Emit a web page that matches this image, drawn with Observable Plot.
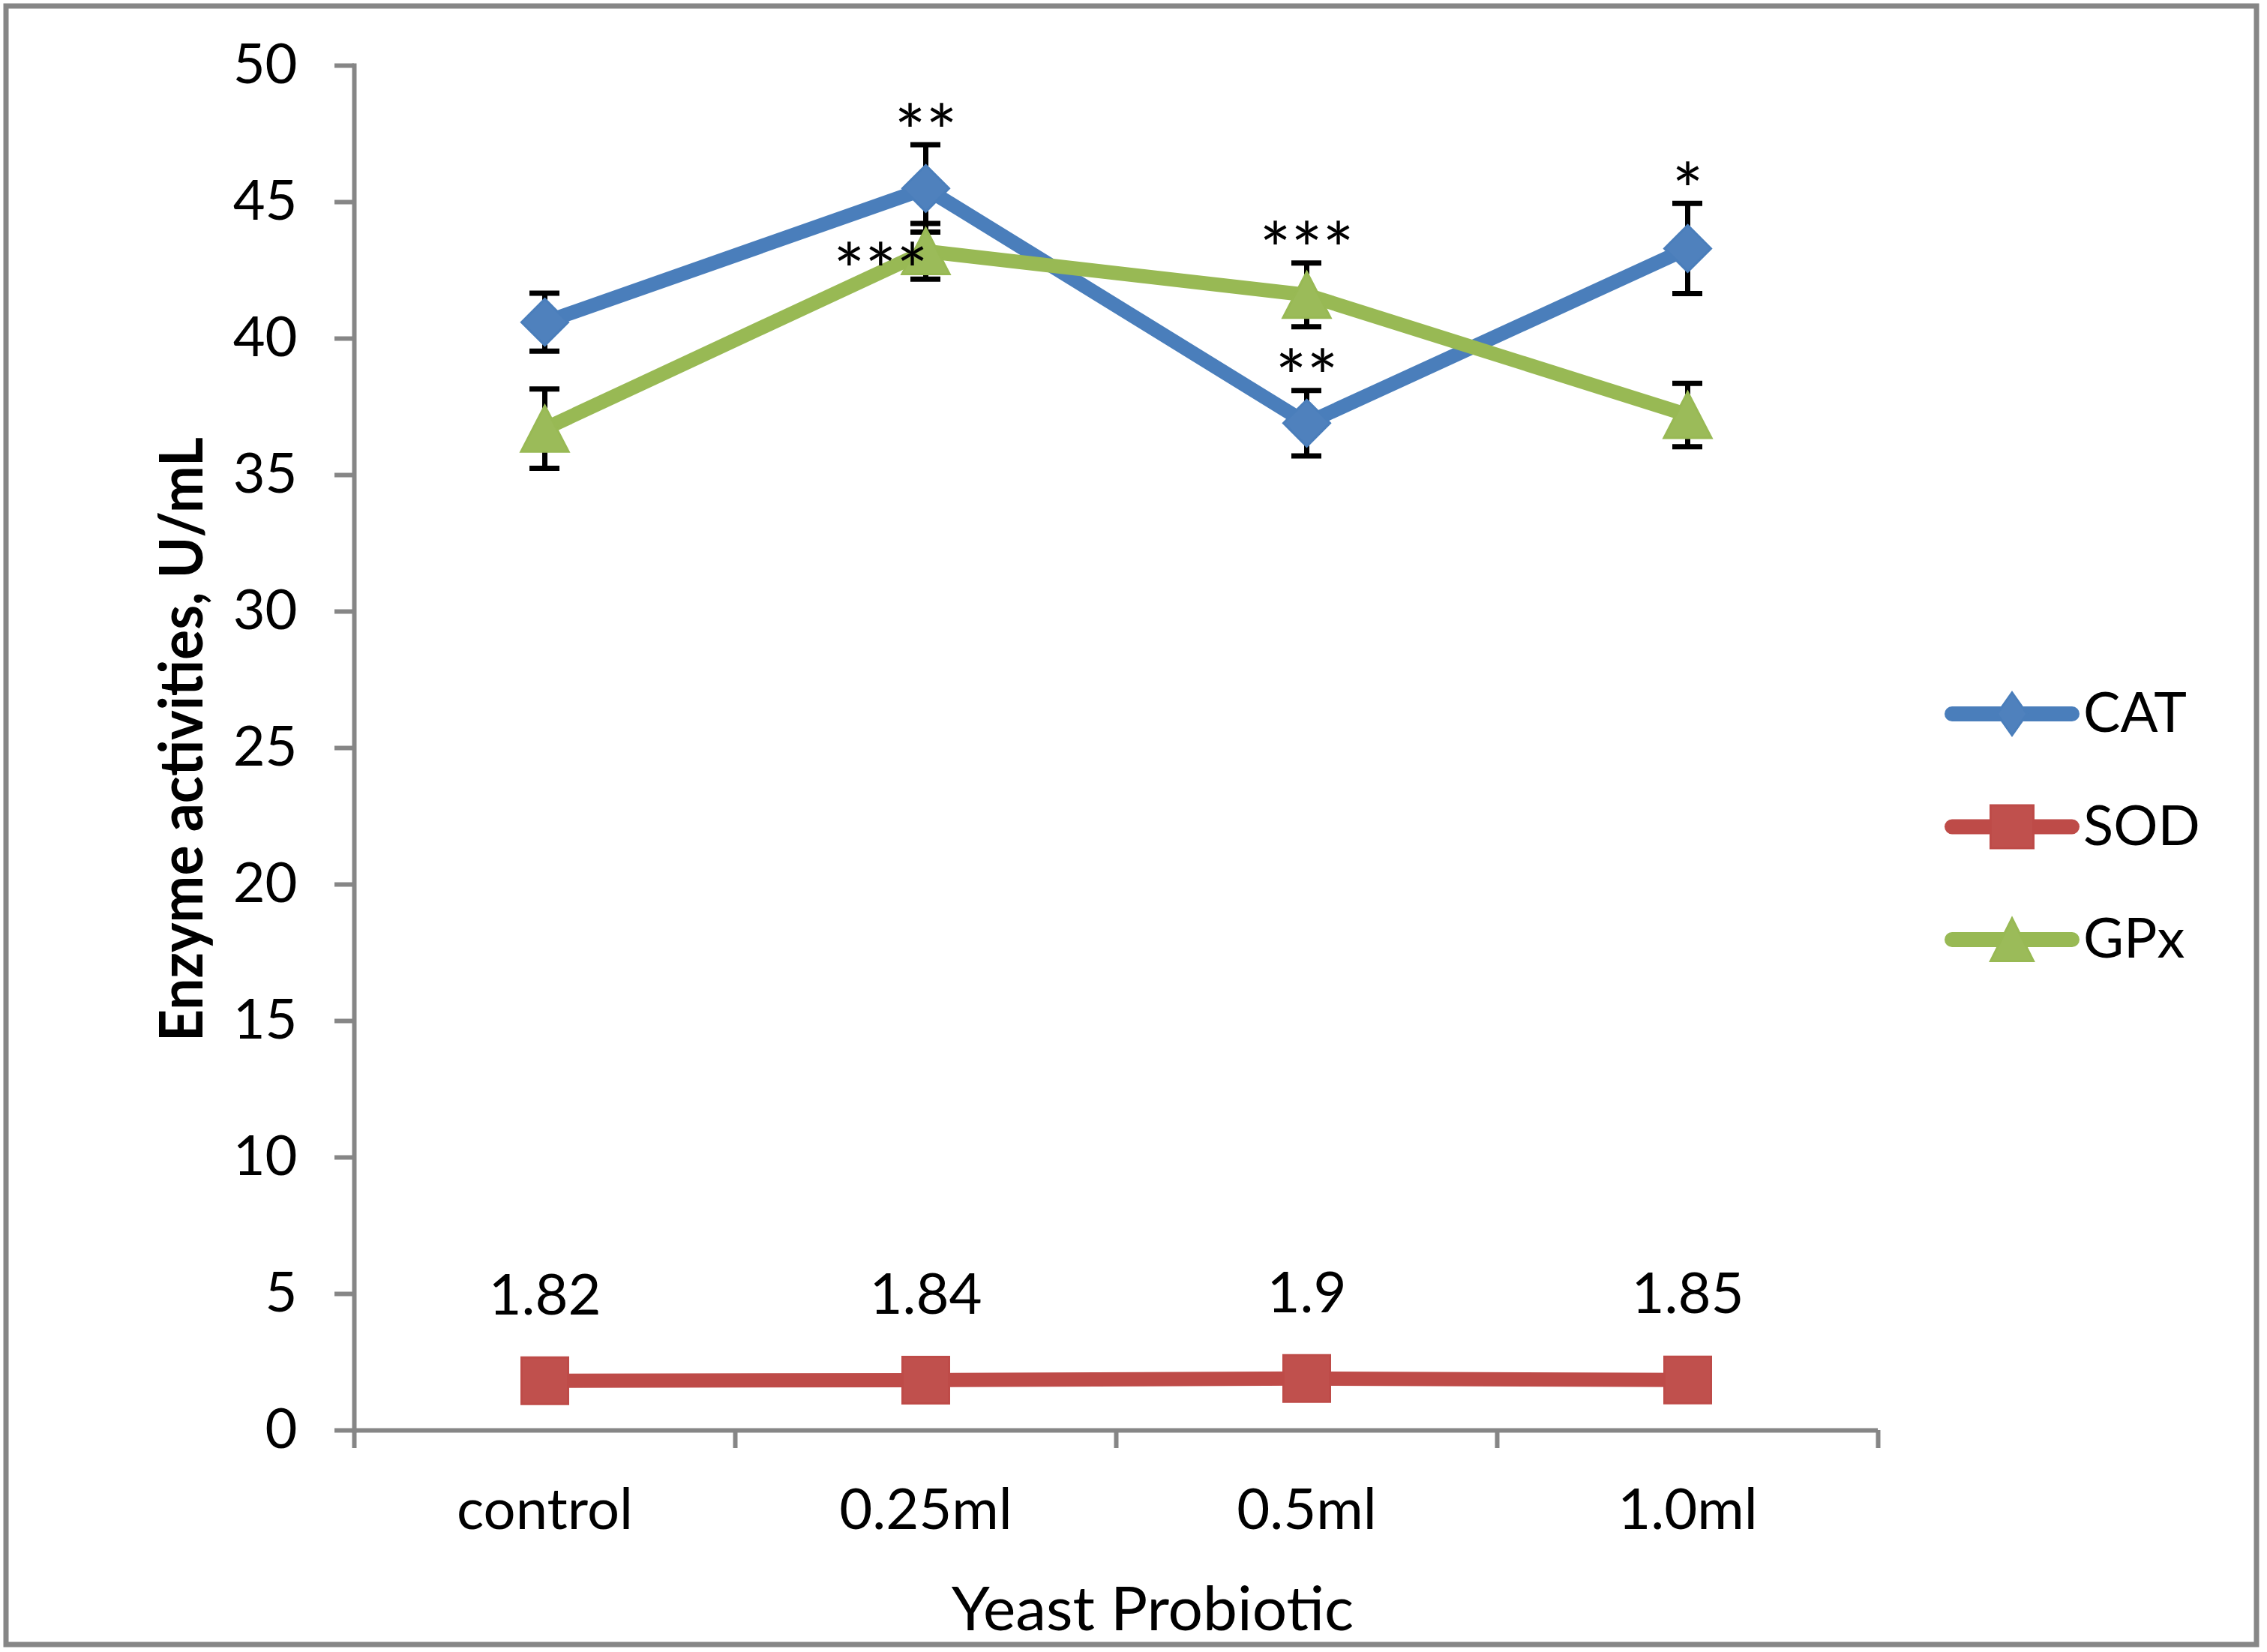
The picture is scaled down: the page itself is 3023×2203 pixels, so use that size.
<!DOCTYPE html>
<html>
<head>
<meta charset="utf-8">
<script src="https://cdn.jsdelivr.net/npm/d3@7"></script>
<script src="https://cdn.jsdelivr.net/npm/@observablehq/plot@0.6"></script>
<style>
  html, body { margin: 0; padding: 0; background: #ffffff; }
  #chart { width: 3023px; height: 2203px; }
</style>
</head>
<body>
<div id="chart"></div>
<script>
// ---- data ----
const categories = ["control", "0.25ml", "0.5ml", "1.0ml"];
const seriesNames = ["CAT", "SOD", "GPx"];
const catValues = [40.6, 45.5, 36.9, 43.3];
const catErrors = [1.06, 1.6, 1.2, 1.65];
const sodValues = [1.82, 1.84, 1.9, 1.85];
const gpxValues = [36.7, 43.2, 41.6, 37.2];
const gpxErrors = [1.45, 1.02, 1.17, 1.16];
const sodLabels = ["1.82", "1.84", "1.9", "1.85"];
const yTicks = [0, 5, 10, 15, 20, 25, 30, 35, 40, 45, 50];
const significance = [
  {series: "CAT", category: "0.25ml", label: "**", side: "above"},
  {series: "GPx", category: "0.25ml", label: "***", side: "left"},
  {series: "GPx", category: "0.5ml", label: "***", side: "above"},
  {series: "CAT", category: "0.5ml", label: "**", side: "above"},
  {series: "CAT", category: "1.0ml", label: "*", side: "above"}
];

// ---- styles ----
const lineColors = {CAT: "#4A7EBB", SOD: "#BE4B48", GPx: "#98B954"};
const fillColors = {CAT: "#4F81BD", SOD: "#C0504D", GPx: "#9BBB59"};
const axisGray = "#868686";
const FONT = "Lato, 'Open Sans', sans-serif";

// ---- tables ----
const rows = [];
categories.forEach((c, i) => {
  rows.push({series: "CAT", category: c, value: catValues[i], err: catErrors[i]});
  rows.push({series: "SOD", category: c, value: sodValues[i], err: 0});
  rows.push({series: "GPx", category: c, value: gpxValues[i], err: gpxErrors[i]});
});
const bySeries = s => rows.filter(d => d.series === s);
const errRows = rows.filter(d => d.err > 0);
const sodRows = bySeries("SOD").map((d, i) => ({...d, label: sodLabels[i]}));
const sigRows = significance.map(s => ({...s, ...rows.find(r => r.series === s.series && r.category === s.category)}));

// ---- custom symbols (bbox-centred, like Excel markers) ----
const diamondSym = {draw(ctx, size) { const s = Math.sqrt(size) / 2; ctx.moveTo(0, -s); ctx.lineTo(s, 0); ctx.lineTo(0, s); ctx.lineTo(-s, 0); ctx.closePath(); }};
const squareSym = {draw(ctx, size) { const s = Math.sqrt(size) / 2; ctx.rect(-s, -s, 2 * s, 2 * s); }};
const triangleSym = {draw(ctx, size) { const s = Math.sqrt(size) / 2; ctx.moveTo(0, -s * 0.985); ctx.lineTo(s * 1.02, s * 0.985); ctx.lineTo(-s * 1.02, s * 0.985); ctx.closePath(); }};
const symbols = {CAT: diamondSym, SOD: squareSym, GPx: triangleSym};

// ---- layout ----
const W = 3023, H = 2203;
const mL = 472, mR = 519, mT = 87, mB = 296;
const halfStep = (W - mL - mR) / categories.length / 2;
const markerR = 62 / Math.sqrt(Math.PI);

const marks = [
  Plot.frame({anchor: "left", stroke: axisGray, strokeWidth: 6}),
  Plot.ruleY([0], {stroke: axisGray, strokeWidth: 6}),
  Plot.ruleX(categories, {x: d => d, y1: 0, y2: 0, insetBottom: -24, dx: -halfStep, stroke: axisGray, strokeWidth: 6}),
  Plot.ruleX([categories[categories.length - 1]], {x: d => d, y1: 0, y2: 0, insetBottom: -24, dx: halfStep, stroke: axisGray, strokeWidth: 6}),
  Plot.axisY(yTicks, {tickSize: 26, tickPadding: 50, stroke: axisGray, strokeWidth: 6, fontSize: 74, label: null}),
  Plot.axisX({tickSize: 0, tickPadding: 78, fontSize: 76, label: null})
];
for (const s of seriesNames) {
  marks.push(Plot.line(bySeries(s), {x: "category", y: "value", stroke: lineColors[s], strokeWidth: 19, strokeLinejoin: "round", strokeLinecap: "round"}));
}
marks.push(
  Plot.ruleX(errRows, {x: "category", y1: d => d.value - d.err, y2: d => d.value + d.err, stroke: "black", strokeWidth: 7}),
  Plot.ruleY(errRows, {x1: "category", x2: "category", y: d => d.value + d.err, insetLeft: -20, insetRight: -20, stroke: "black", strokeWidth: 7}),
  Plot.ruleY(errRows, {x1: "category", x2: "category", y: d => d.value - d.err, insetLeft: -20, insetRight: -20, stroke: "black", strokeWidth: 7})
);
for (const s of seriesNames) {
  marks.push(Plot.dot(bySeries(s), {x: "category", y: "value", symbol: symbols[s], r: markerR, fill: fillColors[s], stroke: lineColors[s], strokeWidth: 3}));
}
marks.push(
  Plot.text(sodRows, {x: "category", y: "value", text: "label", dy: -113, fontSize: 76, lineAnchor: "middle", fill: "black"}),
  Plot.text(sigRows.filter(d => d.side === "above"), {x: "category", y: d => d.value + d.err, text: "label", dy: -13, fontSize: 99, lineAnchor: "middle", fill: "black"}),
  Plot.text(sigRows.filter(d => d.side === "left"), {x: "category", y: "value", text: "label", dy: 30, dx: 3, textAnchor: "end", fontSize: 99, lineAnchor: "middle", fill: "black"})
);

const chart = Plot.plot({
  width: W, height: H,
  marginLeft: mL, marginRight: mR, marginTop: mT, marginBottom: mB,
  style: {fontFamily: FONT, background: "#ffffff", color: "black", overflow: "visible"},
  x: {type: "point", domain: categories, padding: 0.5},
  y: {domain: [0, 50]},
  marks
});
document.getElementById("chart").appendChild(chart);

// ---- titles, legend, border ----
const svg = d3.select(chart);
svg.append("rect").attr("x", 8).attr("y", 8).attr("width", 3001).attr("height", 2185)
  .attr("fill", "none").attr("stroke", axisGray).attr("stroke-width", 7);

svg.append("text")
  .attr("transform", "translate(270,986) rotate(-90)")
  .attr("text-anchor", "middle").attr("font-family", FONT).attr("font-weight", "bold")
  .attr("font-size", 80).attr("textLength", 806).attr("lengthAdjust", "spacingAndGlyphs")
  .attr("fill", "black")
  .text("Enzyme activities, U/mL");

svg.append("text")
  .attr("x", 1537).attr("y", 2174).attr("text-anchor", "middle")
  .attr("font-family", FONT).attr("font-size", 82).attr("fill", "black")
  .text("Yeast Probiotic");

const legendShapes = {
  CAT: "M0,-28.5L20,0L0,28.5L-20,0Z",
  SOD: "M-28.5,-28.5H28.5V28.5H-28.5Z",
  GPx: "M0,-28.5L28.5,28.5L-28.5,28.5Z"
};
seriesNames.forEach((s, i) => {
  const y = 952 + i * 150.5;
  const g = svg.append("g");
  g.append("line").attr("x1", 2603).attr("x2", 2763).attr("y1", y).attr("y2", y)
    .attr("stroke", lineColors[s]).attr("stroke-width", 20).attr("stroke-linecap", "round");
  g.append("path").attr("d", legendShapes[s]).attr("transform", `translate(2683,${y})`)
    .attr("fill", fillColors[s]).attr("stroke", lineColors[s]).attr("stroke-width", 3);
  g.append("text").attr("x", 2778).attr("y", y + 24).attr("text-anchor", "start")
    .attr("font-family", FONT).attr("font-size", 74).attr("fill", "black").text(s);
});
</script>
</body>
</html>
